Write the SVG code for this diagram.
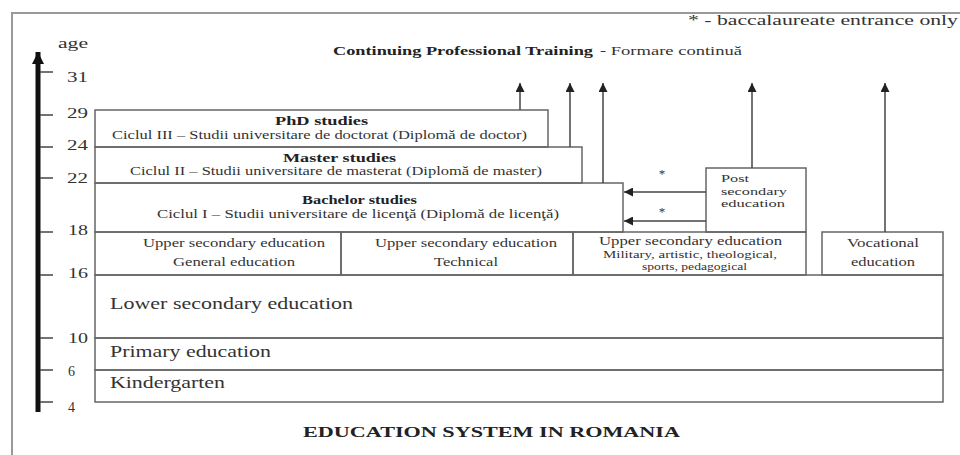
<svg xmlns="http://www.w3.org/2000/svg" width="960" height="455" viewBox="0 0 960 455">
<defs>
<marker id="ah" viewBox="0 0 10 10" refX="10" refY="5" markerWidth="9" markerHeight="9" markerUnits="userSpaceOnUse" orient="auto"><path d="M0,0 L10,5 L0,10 z" fill="#222"/></marker>
<marker id="axh" viewBox="0 0 10 10" refX="10" refY="5" markerWidth="12" markerHeight="16" markerUnits="userSpaceOnUse" orient="auto"><path d="M0,0 L10,5 L0,10 z" fill="#111"/></marker>
</defs>
<style>
text{font-family:"Liberation Serif","Times New Roman",serif;fill:#333}
.b{font-weight:bold;fill:#222}
.box{fill:none;stroke:#666;stroke-width:1.5}
.s13{font-size:13px}
.s12{font-size:12px}
.s11{font-size:11.2px}
.m{font-size:10.8px}
.s17{font-size:17px}
.ax{font-size:15.5px;fill:#333}
.tick{stroke:#444;stroke-width:1.5}
.con{stroke:#444;stroke-width:1.5;fill:none}
.c{text-anchor:middle}
</style>
<rect width="960" height="455" fill="#fff"/>
<path d="M960,13 H12 V455" fill="none" stroke="#999" stroke-width="2"/>

<g id="header">
<text x="688" y="25" style="font-size:15px" textLength="270" lengthAdjust="spacingAndGlyphs">* - baccalaureate entrance only</text>
<text x="333" y="55" class="b s13" textLength="260" lengthAdjust="spacingAndGlyphs">Continuing Professional Training</text>
<text x="600" y="55" class="s13" textLength="142" lengthAdjust="spacingAndGlyphs">- Formare continuă</text>
</g>

<g id="axis">
<line x1="38" y1="412" x2="38" y2="52" stroke="#111" stroke-width="5" marker-end="url(#axh)"/>
<text x="58" y="48" style="font-size:14px" textLength="30" lengthAdjust="spacingAndGlyphs">age</text>
<line class="tick" x1="40" y1="72" x2="53" y2="72"/><text class="ax" x="67" y="82" textLength="21" lengthAdjust="spacingAndGlyphs">31</text>
<line class="tick" x1="40" y1="115" x2="53" y2="115"/><text class="ax" x="67" y="118" textLength="21" lengthAdjust="spacingAndGlyphs">29</text>
<line class="tick" x1="40" y1="147" x2="53" y2="147"/><text class="ax" x="67" y="150" textLength="21" lengthAdjust="spacingAndGlyphs">24</text>
<line class="tick" x1="40" y1="178" x2="53" y2="178"/><text class="ax" x="67" y="183" textLength="21" lengthAdjust="spacingAndGlyphs">22</text>
<line class="tick" x1="40" y1="232" x2="53" y2="232"/><text class="ax" x="68" y="235" textLength="20" lengthAdjust="spacingAndGlyphs">18</text>
<line class="tick" x1="40" y1="275" x2="53" y2="275"/><text class="ax" x="68" y="278" textLength="20" lengthAdjust="spacingAndGlyphs">16</text>
<line class="tick" x1="40" y1="338" x2="53" y2="338"/><text class="ax" x="68" y="343" textLength="20" lengthAdjust="spacingAndGlyphs">10</text>
<line class="tick" x1="40" y1="370" x2="53" y2="370"/><text class="ax" x="68" y="376" style="font-size:14px">6</text>
<line class="tick" x1="40" y1="402" x2="53" y2="402"/><text class="ax" x="68" y="412" style="font-size:14px">4</text>
</g>

<g id="phd">
<rect class="box" x="95" y="110" width="453" height="37"/>
<text x="275" y="125" class="b s12" textLength="93" lengthAdjust="spacingAndGlyphs">PhD studies</text>
<text x="112" y="138.5" class="s12" textLength="415" lengthAdjust="spacingAndGlyphs">Ciclul III – Studii universitare de doctorat (Diplomă de doctor)</text>
</g>

<g id="master">
<rect class="box" x="95" y="147" width="487" height="36"/>
<text x="283" y="161.5" class="b s12" textLength="113" lengthAdjust="spacingAndGlyphs">Master studies</text>
<text x="130" y="175" class="s12" textLength="412" lengthAdjust="spacingAndGlyphs">Ciclul II – Studii universitare de masterat (Diplomă de master)</text>
</g>

<g id="bachelor">
<rect class="box" x="95" y="183" width="528" height="49"/>
<text x="302" y="204" class="b s12" textLength="115" lengthAdjust="spacingAndGlyphs">Bachelor studies</text>
<text x="157" y="217.5" class="s12" textLength="402" lengthAdjust="spacingAndGlyphs">Ciclul I – Studii universitare de licenţă (Diplomă de licenţă)</text>
</g>

<g id="post-secondary">
<rect class="box" x="706" y="168" width="100" height="64"/>
<text x="721" y="182" class="s11" textLength="28" lengthAdjust="spacingAndGlyphs">Post</text>
<text x="721" y="194.5" class="s11" textLength="66" lengthAdjust="spacingAndGlyphs">secondary</text>
<text x="721" y="207" class="s11" textLength="64" lengthAdjust="spacingAndGlyphs">education</text>
</g>

<g id="upper-general">
<rect class="box" x="95" y="232" width="246" height="43"/>
<text x="143" y="247" class="s13" textLength="182" lengthAdjust="spacingAndGlyphs">Upper secondary education</text>
<text x="173" y="266" class="s13" textLength="122" lengthAdjust="spacingAndGlyphs">General education</text>
</g>

<g id="upper-technical">
<rect class="box" x="341" y="232" width="232" height="43"/>
<text x="375" y="247" class="s13" textLength="182" lengthAdjust="spacingAndGlyphs">Upper secondary education</text>
<text x="434" y="266" class="s13" textLength="64" lengthAdjust="spacingAndGlyphs">Technical</text>
</g>

<g id="upper-military">
<rect class="box" x="573" y="232" width="233" height="43"/>
<text x="599" y="245" class="s12" textLength="183" lengthAdjust="spacingAndGlyphs">Upper secondary education</text>
<text x="603" y="257.5" class="m" textLength="174" lengthAdjust="spacingAndGlyphs">Military, artistic, theological,</text>
<text x="642" y="269.5" class="m" textLength="105" lengthAdjust="spacingAndGlyphs">sports, pedagogical</text>
</g>

<g id="vocational">
<rect class="box" x="822" y="232" width="121" height="43"/>
<text x="847" y="247" class="s13" textLength="72" lengthAdjust="spacingAndGlyphs">Vocational</text>
<text x="851" y="266" class="s13" textLength="64" lengthAdjust="spacingAndGlyphs">education</text>
</g>

<g id="lower-secondary">
<rect class="box" x="95" y="275" width="848" height="63"/>
<text x="110" y="309" class="s17" textLength="243" lengthAdjust="spacingAndGlyphs">Lower secondary education</text>
</g>

<g id="primary">
<rect class="box" x="95" y="338" width="848" height="32"/>
<text x="110" y="357" class="s17" textLength="161" lengthAdjust="spacingAndGlyphs">Primary education</text>
</g>

<g id="kindergarten">
<rect class="box" x="95" y="370" width="848" height="32"/>
<text x="110" y="388" class="s17" textLength="115" lengthAdjust="spacingAndGlyphs">Kindergarten</text>
</g>

<g id="connectors">
<line class="con" x1="520" y1="110" x2="520" y2="83" marker-end="url(#ah)"/>
<line class="con" x1="570" y1="147" x2="570" y2="83" marker-end="url(#ah)"/>
<line class="con" x1="603" y1="183" x2="603" y2="83" marker-end="url(#ah)"/>
<line class="con" x1="752" y1="168" x2="752" y2="83" marker-end="url(#ah)"/>
<line class="con" x1="885" y1="232" x2="885" y2="83" marker-end="url(#ah)"/>
<line class="con" x1="706" y1="192" x2="624" y2="192" marker-end="url(#ah)"/>
<line class="con" x1="706" y1="221" x2="624" y2="221" marker-end="url(#ah)"/>
<text x="662" y="178" class="s13 c">*</text>
<text x="662" y="216" class="s13 c">*</text>
</g>

<g id="title">
<text x="303" y="437" class="b" style="font-size:15px" textLength="377" lengthAdjust="spacingAndGlyphs">EDUCATION SYSTEM IN ROMANIA</text>
</g>
</svg>
